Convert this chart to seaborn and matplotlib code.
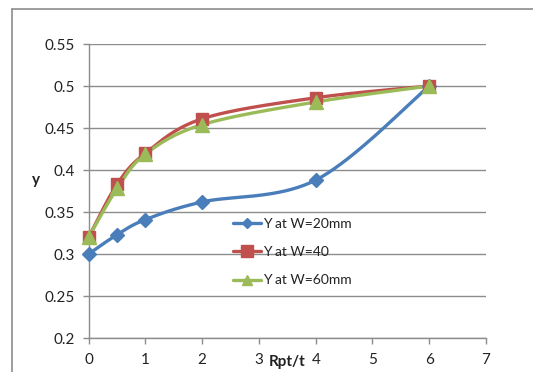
import numpy as np
import pandas as pd
import matplotlib
matplotlib.use('Agg')
import matplotlib.pyplot as plt
import seaborn as sns
from matplotlib.lines import Line2D

# ---- data ----
x_vals = [0, 0.5, 1, 2, 4, 6]
y_w20 = [0.300, 0.323, 0.341, 0.362, 0.388, 0.500]
y_w40 = [0.320, 0.383, 0.420, 0.461, 0.486, 0.500]
y_w60 = [0.320, 0.378, 0.419, 0.454, 0.481, 0.500]
series_names = ['Y at W=20mm', 'Y at W=40', 'Y at W=60mm']
x_ticks = [0, 1, 2, 3, 4, 5, 6, 7]
y_ticks = [0.2, 0.25, 0.3, 0.35, 0.4, 0.45, 0.5, 0.55]
y_tick_labels = ['0.2', '0.25', '0.3', '0.35', '0.4', '0.45', '0.5', '0.55']

colors = ['#4A7EBB', '#C0504D', '#9BBB59']
markers = ['D', 's', '^']
msizes = [7.5, 9, 9.5]
leg_msizes = [5.5, 8, 7]

sns.set_theme(style='white')
plt.rcParams['font.family'] = ['Lato', 'DejaVu Sans']

FS = 11
W, H = 533, 372
fig = plt.figure(figsize=(W / 100, H / 100), dpi=100)
L, R, T, B = 88.7, 486, 44, 338
ax = fig.add_axes([L / W, 1 - B / H, (R - L) / W, (B - T) / H])

sx = (R - L) / 7.0
sy = (B - T) / 0.35


def smooth(xs, ys, n=40):
    P = np.column_stack([np.asarray(xs, float) * sx, np.asarray(ys, float) * sy])
    out = []
    for i in range(len(P) - 1):
        p0 = P[i - 1] if i > 0 else P[i]
        p1, p2 = P[i], P[i + 1]
        p3 = P[i + 2] if i + 2 < len(P) else P[i + 1]
        c1 = p1 + (p2 - p0) / 6.0
        c2 = p2 - (p3 - p1) / 6.0
        t = np.linspace(0, 1, n)[:, None]
        seg = (1 - t) ** 3 * p1 + 3 * (1 - t) ** 2 * t * c1 + 3 * (1 - t) * t ** 2 * c2 + t ** 3 * p2
        out.append(seg if i == 0 else seg[1:])
    arr = np.vstack(out)
    return arr[:, 0] / sx, arr[:, 1] / sy


series = [y_w20, y_w40, y_w60]
for name, ys, c, m, ms in zip(series_names, series, colors, markers, msizes):
    cx, cy = smooth(x_vals, ys)
    df = pd.DataFrame({'x': cx, 'y': cy})
    sns.lineplot(data=df, x='x', y='y', sort=False, estimator=None, ax=ax,
                 color=c, lw=2.4, legend=False, clip_on=False)
    ax.plot(x_vals, ys, linestyle='none', marker=m, ms=ms, color=c,
            markeredgecolor=c, clip_on=False, zorder=3)

ax.set_xlim(0, 7)
ax.set_ylim(0.2, 0.55)
ax.set_xticks(x_ticks)
ax.set_xticklabels([str(v) for v in x_ticks])
ax.set_yticks(y_ticks)
ax.set_yticklabels(y_tick_labels)
ax.yaxis.grid(True, color='#8C8C8C', lw=1)
ax.xaxis.grid(False)
for s in ['top', 'right']:
    ax.spines[s].set_visible(False)
for s in ['left', 'bottom']:
    ax.spines[s].set_color('#8C8C8C')
    ax.spines[s].set_linewidth(1)
ax.tick_params(axis='both', which='major', direction='out', length=4, width=1,
               color='#8C8C8C', labelsize=FS, labelcolor='#222222')
ax.tick_params(axis='x', pad=7)
ax.tick_params(axis='y', pad=6, left=True)
ax.tick_params(axis='x', bottom=True)

ax.set_xlabel('Rpt/t', fontsize=FS, fontweight='bold', color='#222222')
ax.xaxis.set_label_coords(0.5, -0.058)
ax.set_ylabel('y', fontsize=FS, fontweight='bold', color='#222222',
              rotation=0, ha='center', va='center')
ax.yaxis.set_label_coords((36 - L) / (R - L), (B - 180) / (B - T))

handles = [Line2D([0], [0], color=c, lw=2.4, marker=m, ms=ms,
                  markeredgecolor=c)
           for c, m, ms in zip(colors, markers, leg_msizes)]
ax.legend(handles, series_names, loc='upper left',
          bbox_to_anchor=(233 / W, 1 - 218 / H), bbox_transform=fig.transFigure,
          frameon=False, borderpad=0, borderaxespad=0, handlelength=2.05,
          handletextpad=0.1, labelspacing=1.17, fontsize=10,
          labelcolor='#222222')

# chart area border (partially visible)
fig.add_artist(Line2D([12 / W, 1], [1 - 9 / H, 1 - 9 / H], transform=fig.transFigure,
                      color='#8C8C8C', lw=1.2))
fig.add_artist(Line2D([12 / W, 12 / W], [0, 1 - 9 / H], transform=fig.transFigure,
                      color='#8C8C8C', lw=1.2))

fig.savefig('out.png', dpi=100)
